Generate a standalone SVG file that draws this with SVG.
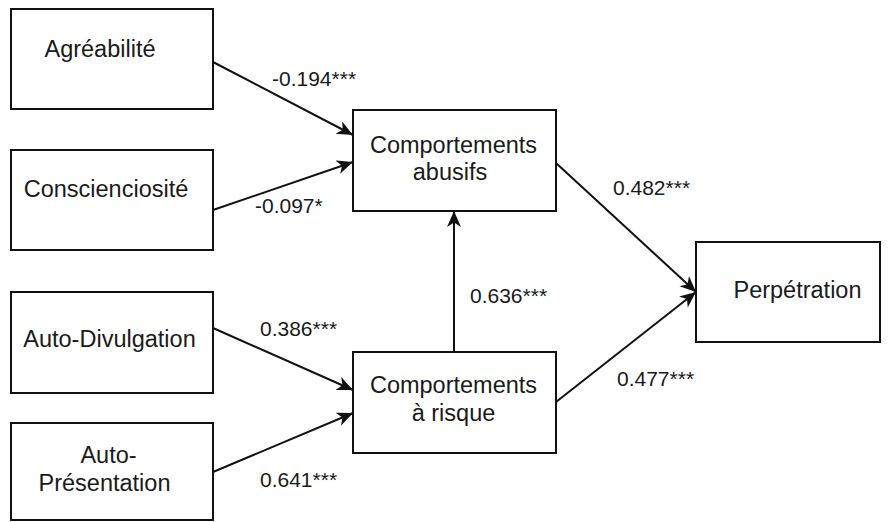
<svg xmlns="http://www.w3.org/2000/svg" width="888" height="522" viewBox="0 0 888 522">
<style>
.box{fill:#fff;stroke:#111;stroke-width:2}
.t{font-family:"Liberation Sans",Arial,sans-serif;font-size:23.5px;fill:#1a1a1a;text-anchor:middle}
.l{font-family:"Liberation Sans",Arial,sans-serif;font-size:21px;fill:#1a1a1a}
.e{fill:none;stroke:#111;stroke-width:2}
</style>
<defs>
<marker id="ah" markerUnits="userSpaceOnUse" markerWidth="18" markerHeight="16" refX="16" refY="7" orient="auto" viewBox="0 0 18 16">
<path d="M0,0 L16,7 L0,14 L4.5,7 z" fill="#111"/>
</marker>
</defs>
<rect width="888" height="522" fill="#fff"/>
<g id="connectors">
<line class="e" x1="213" y1="62" x2="353" y2="135" marker-end="url(#ah)"/>
<line class="e" x1="213" y1="210" x2="353" y2="162" marker-end="url(#ah)"/>
<line class="e" x1="213" y1="328" x2="353" y2="390" marker-end="url(#ah)"/>
<line class="e" x1="213" y1="472" x2="353" y2="413" marker-end="url(#ah)"/>
<line class="e" x1="454" y1="352" x2="454" y2="211" marker-end="url(#ah)"/>
<line class="e" x1="556" y1="163" x2="696" y2="292" marker-end="url(#ah)"/>
<line class="e" x1="556" y1="402" x2="696" y2="292" marker-end="url(#ah)"/>
<text class="l" x="272" y="86">-0.194***</text>
<text class="l" x="255" y="213">-0.097*</text>
<text class="l" x="260" y="336">0.386***</text>
<text class="l" x="260" y="487">0.641***</text>
<text class="l" x="470" y="303">0.636***</text>
<text class="l" x="613" y="195">0.482***</text>
<text class="l" x="617" y="386">0.477***</text>
</g>
<g id="agreabilite">
<rect class="box" x="11" y="9" width="202" height="100"/>
<text class="t" x="100" y="57">Agréabilité</text>
</g>
<g id="conscienciosite">
<rect class="box" x="11" y="150" width="202" height="100"/>
<text class="t" x="106" y="197">Conscienciosité</text>
</g>
<g id="auto-divulgation">
<rect class="box" x="11" y="292" width="202" height="101"/>
<text class="t" x="109.5" y="347">Auto-Divulgation</text>
</g>
<g id="auto-presentation">
<rect class="box" x="11" y="423" width="202" height="97"/>
<text class="t" x="108.5" y="463">Auto-</text>
<text class="t" x="104.5" y="491">Présentation</text>
</g>
<g id="comportements-abusifs">
<rect class="box" x="353" y="110" width="203" height="101"/>
<text class="t" x="453.5" y="153">Comportements</text>
<text class="t" x="450" y="180">abusifs</text>
</g>
<g id="comportements-risque">
<rect class="box" x="353" y="352" width="203" height="101"/>
<text class="t" x="453.5" y="393">Comportements</text>
<text class="t" x="453.5" y="421">à risque</text>
</g>
<g id="perpetration">
<rect class="box" x="696" y="242" width="184" height="100"/>
<text class="t" x="797.5" y="298">Perpétration</text>
</g>
</svg>
